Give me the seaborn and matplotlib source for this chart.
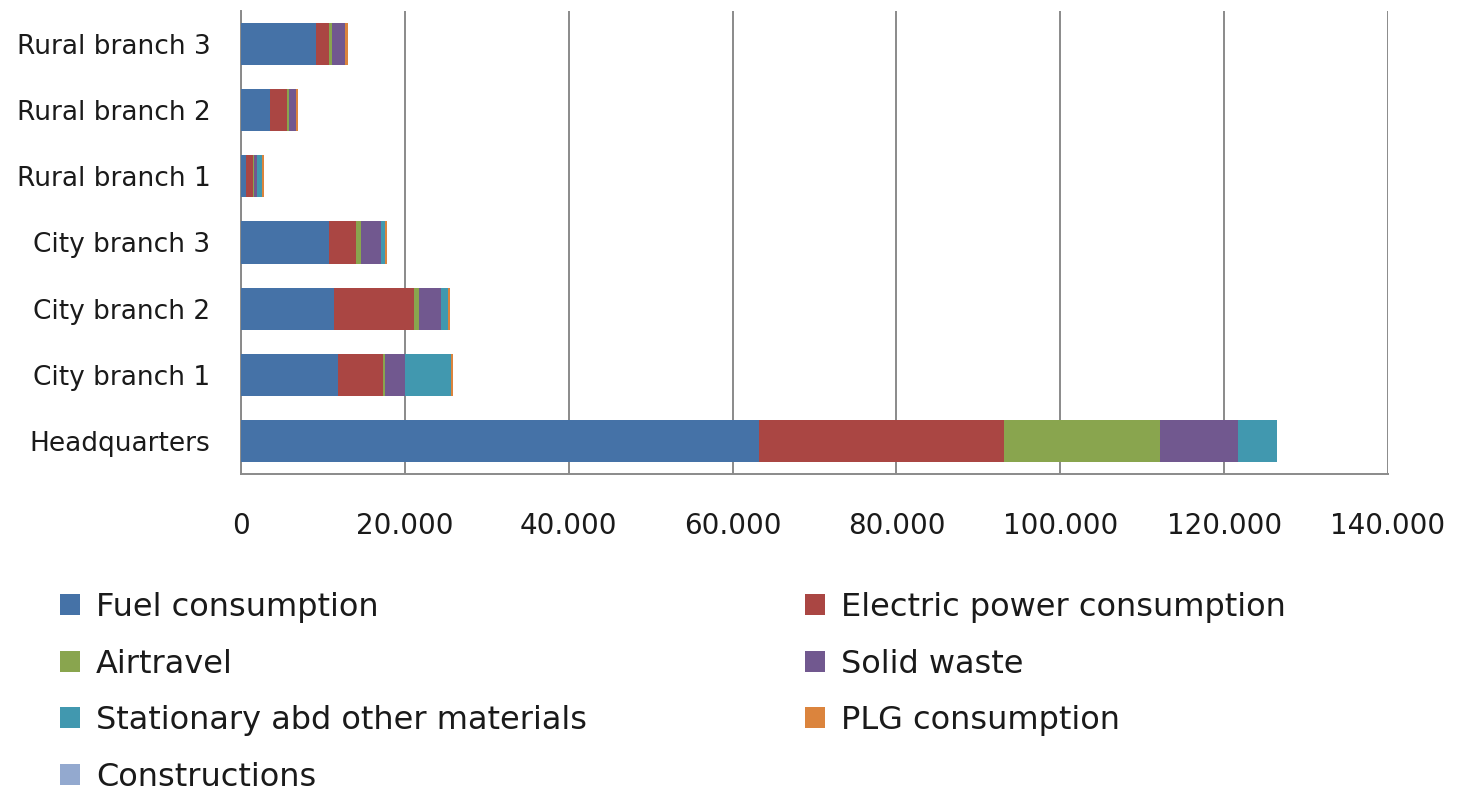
import numpy as np
import pandas as pd
import matplotlib
matplotlib.use("Agg")
import matplotlib.pyplot as plt
from matplotlib.patches import Patch
from matplotlib.ticker import FuncFormatter, MultipleLocator
import seaborn as sns

# Emissions per site and source (top to bottom as drawn)
sites = ["Rural branch 3", "Rural branch 2", "Rural branch 1",
         "City branch 3", "City branch 2", "City branch 1", "Headquarters"]

fuel = [9150, 3600, 600, 10770, 11300, 11870, 63200]
electric = [1600, 1970, 900, 3300, 9840, 5450, 29900]
airtravel = [350, 280, 50, 530, 570, 280, 19100]
solid_waste = [1650, 820, 450, 2470, 2730, 2440, 9500]
stationary = [0, 0, 600, 530, 850, 5610, 4700]
plg = [250, 280, 200, 250, 250, 170, 0]
constructions = [0, 0, 0, 0, 0, 0, 0]

series_names = ["Fuel consumption", "Electric power consumption", "Airtravel",
                "Solid waste", "Stationary abd other materials", "PLG consumption",
                "Constructions"]
series_values = [fuel, electric, airtravel, solid_waste, stationary, plg, constructions]
colors = ["#4572A7", "#AA4643", "#89A54E", "#71588F", "#4198AF", "#DB843D", "#93A9CF"]

sns.set_style("white")
plt.rcParams["font.family"] = ["DejaVu Sans"]

fig = plt.figure(figsize=(14.62, 8.05), dpi=100)
ax = fig.add_axes([241 / 1462, 1 - 474 / 805, (1388 - 241) / 1462, (474 - 11) / 805])

# Stacked bars: draw running totals from the outermost segment inward
cum = np.cumsum(np.array(series_values, dtype=float), axis=0)
for i in range(len(series_names) - 1, -1, -1):
    df = pd.DataFrame({"site": sites, "value": cum[i]})
    sns.barplot(data=df, x="value", y="site", orient="h", color=colors[i],
                width=0.635, saturation=1, ax=ax, zorder=3, linewidth=0)

ax.set_xlim(0, 140000)
ax.set_ylim(6.5, -0.5)
ax.xaxis.set_major_locator(MultipleLocator(20000))
ax.xaxis.set_major_formatter(FuncFormatter(lambda v, p: f"{int(v):,}".replace(",", ".")))
ax.grid(axis="x", color="#8a8a8a", linewidth=1.4, zorder=0)
ax.set_axisbelow(True)
ax.set_xlabel("")
ax.set_ylabel("")

for side in ("top", "right"):
    ax.spines[side].set_visible(False)
for side in ("left", "bottom"):
    ax.spines[side].set_color("#8a8a8a")
    ax.spines[side].set_linewidth(1.4)

ax.tick_params(axis="x", length=5, width=1.4, color="#8a8a8a", pad=22,
               labelsize=20, labelcolor="#1a1a1a")
ax.tick_params(axis="y", length=0, pad=22, labelsize=19, labelcolor="#1a1a1a")

# Legend laid out in two columns, row by row
def make_handles(idx):
    return [Patch(facecolor=colors[i], edgecolor="none") for i in idx], [series_names[i] for i in idx]

legend_kw = dict(frameon=False, fontsize=23, handlelength=0.63, handleheight=0.63,
                 handletextpad=0.5, labelspacing=0.8, borderpad=0, borderaxespad=0,
                 loc="upper left", labelcolor="#1a1a1a")

h1, l1 = make_handles([0, 2, 4, 6])
fig.legend(h1, l1, bbox_to_anchor=(60 / 1462, 1 - 592 / 805), **legend_kw)
h2, l2 = make_handles([1, 3, 5])
fig.legend(h2, l2, bbox_to_anchor=(805 / 1462, 1 - 592 / 805), **legend_kw)

fig.savefig("out.png", dpi=100)
